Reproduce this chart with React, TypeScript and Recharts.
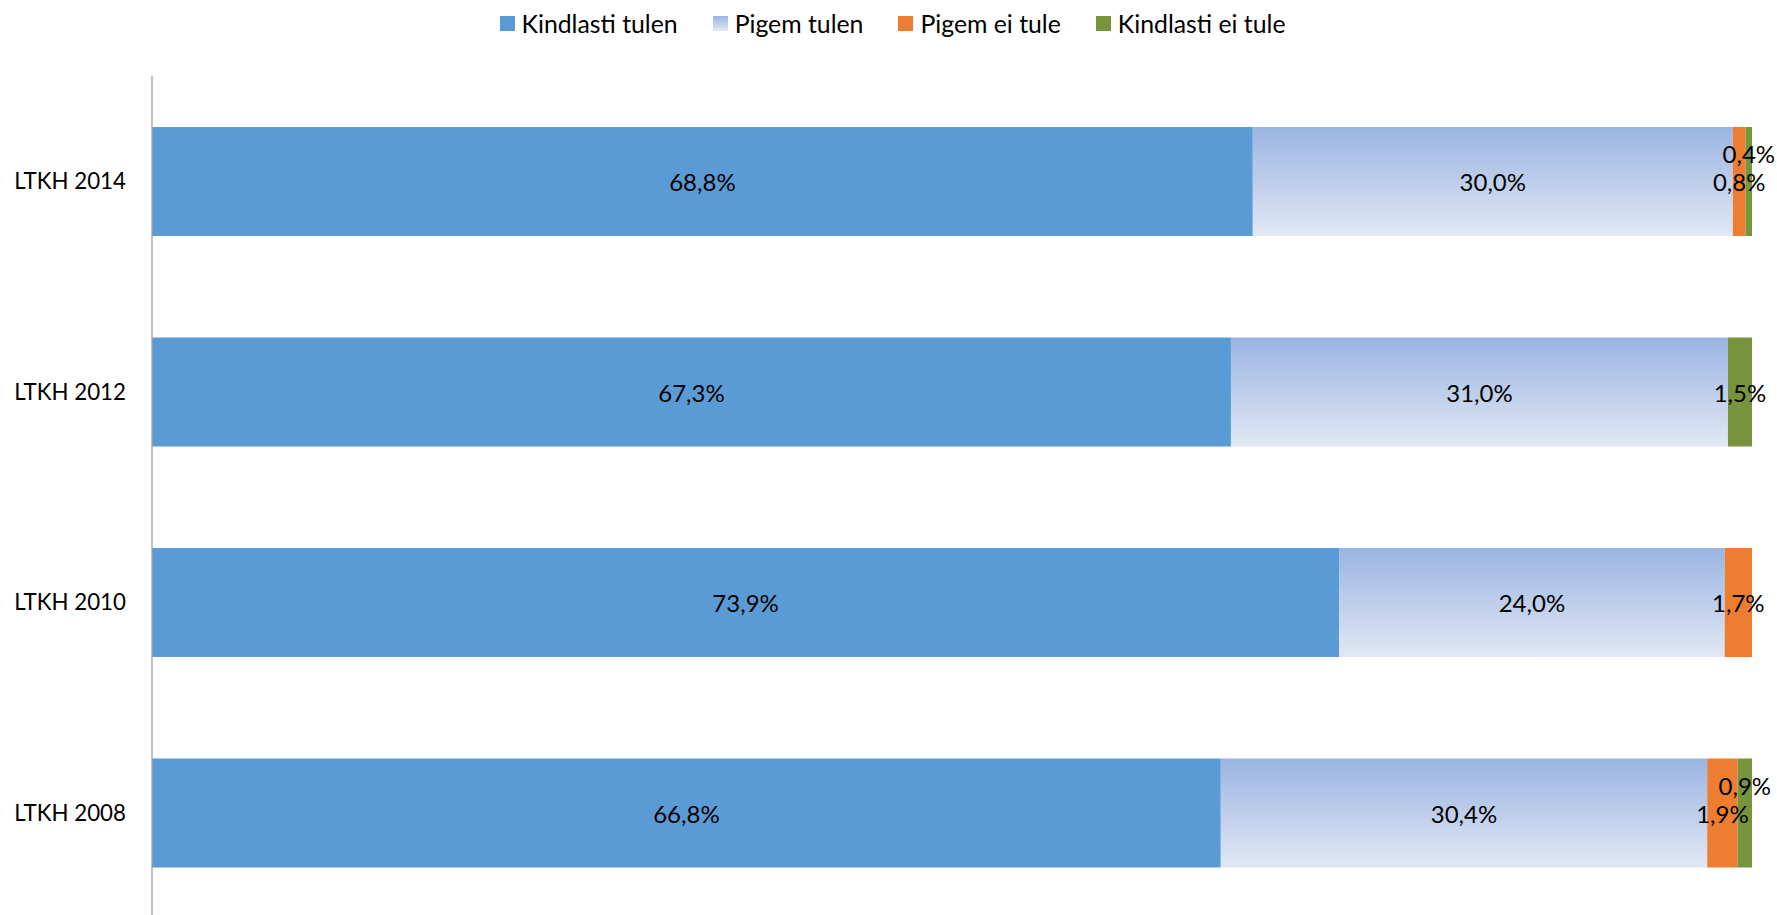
import { BarChart, Bar, XAxis, YAxis, Legend, LabelList } from "recharts";

const categories = ["LTKH 2014", "LTKH 2012", "LTKH 2010", "LTKH 2008"];
const kindlastiTulen = [68.8, 67.3, 73.9, 66.8];
const pigemTulen = [30.0, 31.0, 24.0, 30.4];
const pigemEiTule = [0.8, 0, 1.7, 1.9];
const kindlastiEiTule = [0.4, 1.5, 0, 0.9];

const data = categories.map((name, i) => ({
  name,
  kt: kindlastiTulen[i],
  pt: pigemTulen[i],
  pet: pigemEiTule[i],
  ket: kindlastiEiTule[i],
}));

const FONT = "Lato, 'Open Sans', sans-serif";

const seriesInfo = [
  { key: "kt", name: "Kindlasti tulen", swatch: "#5B9BD5" },
  { key: "pt", name: "Pigem tulen", swatch: "url(#legendGrad)" },
  { key: "pet", name: "Pigem ei tule", swatch: "#ED7D31" },
  { key: "ket", name: "Kindlasti ei tule", swatch: "#77933C" },
];

const fmt = (v: number) => v.toFixed(1).replace(".", ",") + "%";

const renderLegend = () => (
  <div style={{ height: 76, display: "flex", justifyContent: "center", paddingTop: 9, paddingLeft: 8, boxSizing: "border-box", fontFamily: FONT, fontSize: 24.8 }}>
    {seriesInfo.map((s, i) => (
      <div key={s.key} style={{ display: "flex", alignItems: "center", marginLeft: i === 0 ? 0 : 35, height: 28 }}>
        <svg width={15} height={15} style={{ marginRight: 7 }}>
          <defs>
            <linearGradient id="legendGrad" x1="0" y1="0" x2="0" y2="1">
              <stop offset="0%" stopColor="#9AB4E2" />
              <stop offset="100%" stopColor="#E1E8F4" />
            </linearGradient>
          </defs>
          <rect width={15} height={15} fill={s.swatch} />
        </svg>
        <span style={{ color: "#000" }}>{s.name}</span>
      </div>
    ))}
  </div>
);

// label for a segment; hides zero values, lifts the last one when the two tiny ones collide
const makeLabel = (lift: boolean) => (props: any) => {
  const { x, y, width, height, value, index } = props;
  if (!value) return null;
  const dy = lift && pigemEiTule[index] > 0 ? -28 : 0;
  return (
    <text x={x + width / 2} y={y + height / 2 + dy} textAnchor="middle" dominantBaseline="central" fontFamily={FONT} fontSize={24} fill="#000">
      {fmt(value)}
    </text>
  );
};

export default function App() {
  return (
    <div style={{ position: "absolute", left: 0, top: 0, width: 1777, height: 915, overflow: "hidden", background: "#fff" }}>
      <BarChart
        width={1777}
        height={920}
        data={data}
        layout="vertical"
        stackOffset="expand"
        margin={{ top: 0, right: 25, bottom: 2, left: 0 }}
      >
        <defs>
          <linearGradient id="pigemGrad" x1="0" y1="0" x2="0" y2="1">
            <stop offset="0%" stopColor="#9AB4E2" />
            <stop offset="100%" stopColor="#E1E8F4" />
          </linearGradient>
        </defs>
        <Legend verticalAlign="top" align="center" content={renderLegend} wrapperStyle={{ top: 0, left: 0, width: 1777 }} />
        <XAxis type="number" domain={[0, 1]} hide />
        <YAxis
          type="category"
          dataKey="name"
          width={152}
          axisLine={{ stroke: "#A0A0A0", strokeWidth: 1.3 }}
          tickLine={false}
          tickSize={0}
          tickMargin={26}
          tick={{ fontSize: 22.3, fill: "#000", fontFamily: FONT }}
        />
        <Bar dataKey="kt" stackId="a" fill="#5B9BD5" barSize={109} isAnimationActive={false}>
          <LabelList dataKey="kt" content={makeLabel(false)} />
        </Bar>
        <Bar dataKey="pt" stackId="a" fill="url(#pigemGrad)" barSize={109} isAnimationActive={false}>
          <LabelList dataKey="pt" content={makeLabel(false)} />
        </Bar>
        <Bar dataKey="pet" stackId="a" fill="#ED7D31" barSize={109} isAnimationActive={false}>
          <LabelList dataKey="pet" content={makeLabel(false)} />
        </Bar>
        <Bar dataKey="ket" stackId="a" fill="#77933C" barSize={109} isAnimationActive={false}>
          <LabelList dataKey="ket" content={makeLabel(true)} />
        </Bar>
      </BarChart>
    </div>
  );
}
